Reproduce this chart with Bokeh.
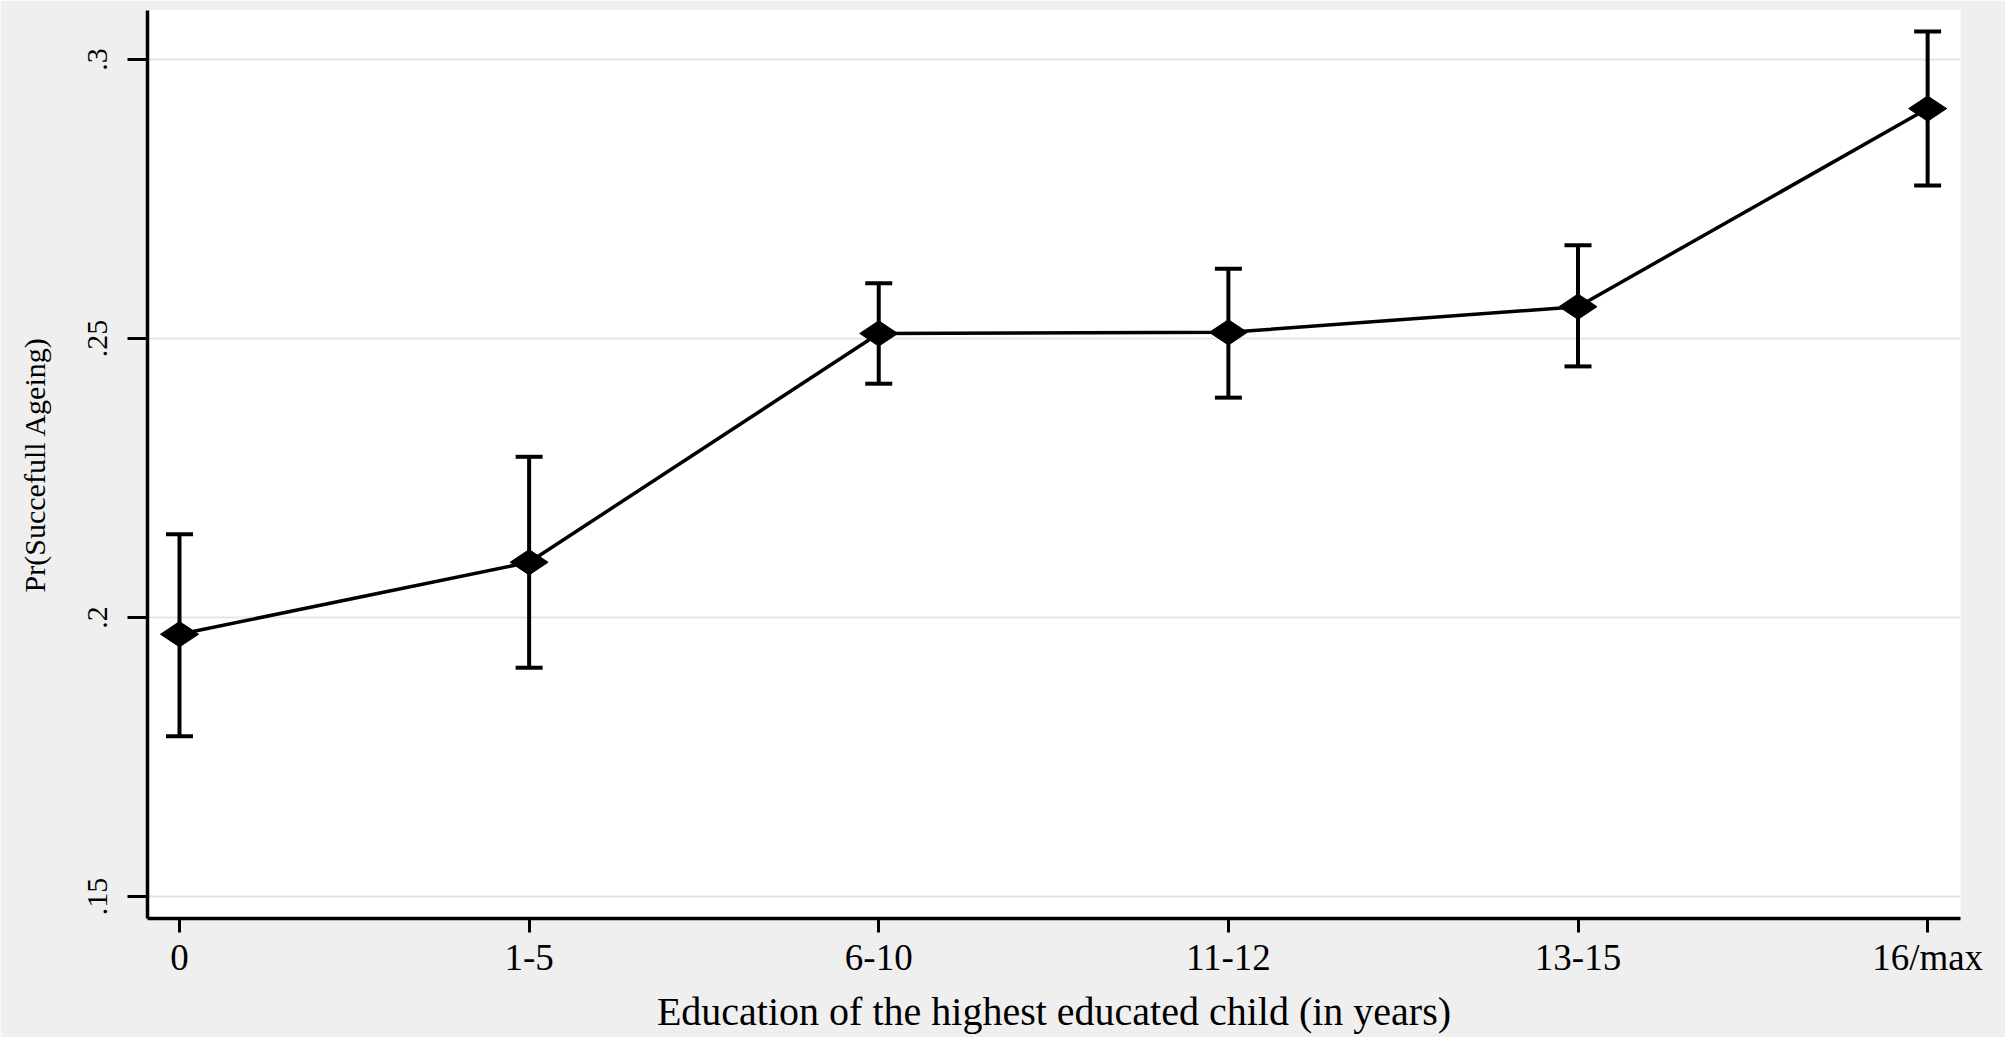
import math
from bokeh.plotting import figure
from bokeh.models import ColumnDataSource, Whisker, TeeHead, FixedTicker, Range1d
from bokeh.embed import file_html
from bokeh.resources import INLINE

# ---- data ----
categories = ["0", "1-5", "6-10", "11-12", "13-15", "16/max"]
estimate = [0.1970, 0.2099, 0.2509, 0.2511, 0.2557, 0.2912]
ci_upper = [0.2149, 0.2288, 0.2599, 0.2625, 0.2667, 0.3050]
ci_lower = [0.1787, 0.1910, 0.2419, 0.2394, 0.2450, 0.2774]
y_ticks = [0.15, 0.20, 0.25, 0.30]
y_tick_labels = [".15", ".2", ".25", ".3"]

x_title = "Education of the highest educated child (in years)"
y_title = "Pr(Succefull Ageing)"

xpos = list(range(len(categories)))
src = ColumnDataSource(dict(x=xpos, y=estimate, upper=ci_upper, lower=ci_lower))

BG = "#efefef"
FONT = "Liberation Serif"

p = figure(width=2005, height=1037, output_backend="svg", toolbar_location=None,
           x_range=Range1d(-0.0915, 5.094), y_range=Range1d(0.14606, 0.30878),
           min_border_left=147, min_border_right=45, min_border_top=10, min_border_bottom=119)
p.background_fill_color = "white"
p.border_fill_color = BG
p.outline_line_color = None

# grid
p.xgrid.grid_line_color = None
p.ygrid.grid_line_color = "#e5e5e5"
p.ygrid.grid_line_width = 2

# y axis
p.yaxis.ticker = FixedTicker(ticks=y_ticks)
p.yaxis.major_label_overrides = {t: l for t, l in zip(y_ticks, y_tick_labels)}
p.yaxis.major_label_orientation = "vertical"
p.yaxis.axis_label = y_title
p.yaxis.minor_tick_line_color = None

# x axis
p.xaxis.ticker = FixedTicker(ticks=xpos)
p.xaxis.major_label_overrides = {i: c for i, c in zip(xpos, categories)}
p.xaxis.axis_label = x_title
p.xaxis.minor_tick_line_color = None

for ax in (p.xaxis[0], p.yaxis[0]):
    ax.axis_line_width = 3.5
    ax.axis_line_color = "black"
    ax.major_tick_line_width = 3
    ax.major_tick_line_color = "black"
    ax.major_tick_in = 0
    ax.major_label_text_font = FONT
    ax.major_label_text_color = "black"
    ax.axis_label_text_font = FONT
    ax.axis_label_text_font_style = "normal"
    ax.axis_label_text_color = "black"

p.xaxis.major_tick_out = 14
p.xaxis.major_label_text_font_size = "37px"
p.xaxis.major_label_standoff = 4
p.xaxis.axis_label_text_font_size = "40px"
p.xaxis.axis_label_standoff = 8

p.yaxis.major_tick_out = 20
p.yaxis.major_label_text_font_size = "30px"
p.yaxis.major_label_standoff = 20
p.yaxis.axis_label_text_font_size = "30px"
p.yaxis.axis_label_standoff = 35

# connecting line
p.line("x", "y", source=src, line_width=3.5, line_color="black")

# error bars
p.add_layout(Whisker(base="x", upper="upper", lower="lower", source=src,
                     dimension="height", line_width=4, line_color="black",
                     upper_head=TeeHead(size=27, line_width=4, line_color="black"),
                     lower_head=TeeHead(size=27, line_width=4, line_color="black")))

# markers
p.scatter("x", "y", source=src, marker="diamond", size=38, angle=math.pi / 2,
          fill_color="black", line_color="black")

open("out.html", "w").write(file_html(p, INLINE))
